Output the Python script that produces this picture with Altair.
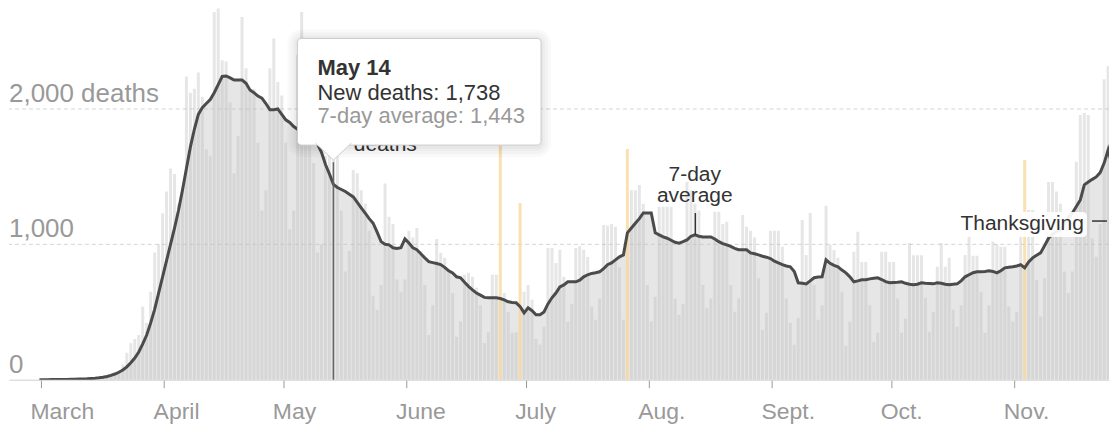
import json
import altair as alt
import pandas as pd

# ---------------- data ----------------
START = "2020-03-01"  # first bar (Sunday)

DAILY_DEATHS = [
    1, 5, 1, 4, 1, 3, 2,
    3, 4, 4, 8, 7, 11, 9,
    12, 18, 23, 31, 44, 51, 64,
    110, 200, 270, 300, 330, 540, 420,
    650, 940, 1000, 1230, 1390, 1560, 1520,
    1300, 1400, 2240, 2120, 2150, 2270, 2090,
    1700, 1650, 2716, 2770, 2360, 2350, 2050,
    1525, 1800, 2680, 2300, 2150, 2150, 1750,
    1250, 1400, 2300, 2520, 2200, 2100, 1750,
    1110, 1250, 2400, 2716, 2250, 1800, 1600,
    940, 1000, 1650, 1800, 1738, 1650, 1250,
    800, 950, 1550, 1525, 1400, 1300, 1100,
    620, 517, 700, 1450, 1203, 1150, 740,
    650, 740, 1100, 1050, 1120, 950, 700,
    330, 550, 1040, 937, 900, 800, 640,
    317, 430, 775, 790, 760, 680, 550,
    272, 350, 775, 775, 2500, 640, 500,
    346, 350, 1306, 650, 700, 590, 300,
    260, 391, 973, 973, 863, 960, 760,
    428, 560, 973, 985, 960, 907, 540,
    442, 600, 1143, 1140, 1150, 1130, 830,
    442, 1705, 1400, 1400, 1438, 1300, 700,
    430, 612, 1277, 1277, 1277, 1277, 600,
    480, 560, 1461, 1400, 1300, 1250, 700,
    531, 600, 1240, 1240, 1150, 1167, 700,
    502, 600, 1217, 1130, 1100, 1050, 750,
    369, 494, 1100, 1100, 1100, 983, 600,
    420, 258, 457, 1180, 922, 1232, 700,
    442, 550, 1285, 996, 959, 900, 650,
    250, 428, 945, 1093, 870, 870, 550,
    280, 346, 945, 945, 870, 870, 600,
    346, 450, 1010, 920, 920, 920, 605,
    354, 500, 834, 1010, 834, 900, 516,
    391, 550, 922, 1084, 915, 915, 650,
    346, 550, 1020, 1000, 983, 983, 540,
    428, 500, 1100, 1623, 1254, 1254, 737,
    467, 750, 1461, 1461, 1390, 1300, 797,
    640, 800, 1610, 1955, 1970, 1955, 1045,
    908, 1150, 2220, 2317, 1180, 1353,
]

SEVEN_DAY_AVG = [
    0, 0, 0, 1, 1, 1, 2, 2, 3, 4,
    5, 6, 7, 9, 11, 14, 18, 24, 32, 42,
    55, 72, 95, 125, 160, 205, 265, 330, 420, 520,
    640, 760, 880, 1000, 1120, 1250, 1400, 1560, 1720, 1850,
    1960, 2010, 2040, 2070, 2120, 2180, 2240, 2244, 2230, 2214,
    2214, 2214, 2190, 2140, 2120, 2095, 2080, 2040, 1995, 1995,
    2000, 1960, 1920, 1900, 1870, 1850, 1845, 1840, 1830, 1800,
    1740, 1680, 1590, 1520, 1443, 1420, 1405, 1390, 1370, 1350,
    1310, 1270, 1230, 1190, 1156, 1090, 1020, 1000, 996, 975,
    970, 975, 1040, 1010, 975, 960, 930, 900, 872, 865,
    858, 850, 830, 805, 789, 760, 753, 720, 690, 664,
    640, 625, 608, 605, 605, 605, 600, 590, 576, 570,
    568, 540, 494, 531, 510, 480, 480, 500, 560, 605,
    640, 686, 700, 723, 723, 723, 735, 760, 775, 785,
    790, 797, 820, 850, 863, 885, 908, 922, 1085, 1120,
    1156, 1190, 1232, 1232, 1232, 1085, 1070, 1055, 1045, 1030,
    1015, 1009, 1020, 1033, 1060, 1070, 1060, 1055, 1055, 1055,
    1040, 1020, 1005, 996, 985, 970, 960, 960, 960, 937,
    930, 922, 912, 905, 895, 875, 863, 850, 840, 834,
    800, 716, 712, 708, 730, 753, 758, 760, 886, 860,
    845, 834, 810, 789, 760, 723, 730, 738, 738, 745,
    750, 753, 740, 725, 716, 718, 720, 723, 712, 705,
    701, 705, 716, 712, 710, 708, 716, 712, 705, 701,
    705, 708, 730, 760, 775, 790, 797, 797, 800, 804,
    800, 789, 805, 826, 830, 834, 840, 849, 826, 870,
    900, 920, 937, 990, 1045, 1075, 1095, 1107, 1150, 1200,
    1232, 1280, 1328, 1439, 1460, 1480, 1498, 1530, 1600, 1697,
    1580, 1498,
]

FLAGGED_DATES = ["2020-06-25", "2020-06-30", "2020-07-27", "2020-11-04", "2020-11-26"]

MONTH_TICKS = ["2020-03-01", "2020-04-01", "2020-05-01", "2020-06-01", "2020-07-01",
               "2020-08-01", "2020-09-01", "2020-10-01", "2020-11-01"]
MONTH_LABELS = ["March", "April", "May", "June", "July", "Aug.", "Sept.", "Oct.", "Nov."]

Y_TICKS = [0, 1000, 2000]
Y_TICK_LABELS = ["0", "1,000", "2,000 deaths"]
Y_MAX = 2743

TOOLTIP_DATE = "2020-05-14"
TOOLTIP_TITLE = "May 14"
TOOLTIP_LINES = ["New deaths: 1,738", "7-day average: 1,443"]

assert len(DAILY_DEATHS) == len(SEVEN_DAY_AVG) == 272

# ---------------- helpers ----------------
DAY = 86400000
BASE = int(pd.Timestamp(START, tz="UTC").value // 1_000_000)


def day_ms(d):
    return int(BASE + d * DAY)


def date_ms(s, extra_days=0.0):
    return int(pd.Timestamp(s, tz="UTC").value // 1_000_000 + extra_days * DAY)


flag_ms = {date_ms(s) for s in FLAGGED_DATES}
df = pd.DataFrame({
    "date": [day_ms(i) for i in range(len(DAILY_DEATHS))],
    "deaths": DAILY_DEATHS,
    "avg": SEVEN_DAY_AVG,
})
df["flag"] = df["date"].isin(flag_ms)

FONT = "Liberation Sans"
W, H = 1102, 372
xscale = alt.Scale(type="utc", domain=[day_ms(-7.66), day_ms(269.22)], padding=0, nice=False)
yscale = alt.Scale(domain=[0, Y_MAX], nice=False, zero=True, padding=0)

label_expr = json.dumps(MONTH_LABELS) + "[utcmonth(datum.value) - 2]"
x_axis = alt.Axis(
    values=[date_ms(s, 0.38) for s in MONTH_TICKS],
    labelExpr=label_expr, title=None, grid=False,
    tickSize=8, tickColor="#9a9a9a", tickWidth=1,
    domainColor="#cfcfcf", domainWidth=1,
    labelColor="#999999", labelFont=FONT, labelFontSize=23,
    labelAlign="left", labelOffset=-11, labelBaseline="alphabetic", labelPadding=31,
    labelOverlap=False, labelFlush=False,
)


def XE(field):
    return alt.X(field, scale=xscale, axis=x_axis)


def YE(field):
    return alt.Y(field, scale=yscale, axis=None)


base = alt.Chart(df)

# gridlines
grid = alt.Chart(pd.DataFrame({"v": Y_TICKS[1:]})).mark_rule(
    color="#d4d4d4", strokeDash=[4, 3], strokeWidth=1
).encode(y=YE("v:Q"))

area = base.mark_area(color="#bdbdbd", opacity=0.38, interpolate="linear", clip=True).encode(
    x=XE("date:T"), y=YE("avg:Q"))

bars = base.transform_filter("!datum.flag").mark_bar(
    width=3, color="#bdbdbd", opacity=0.38, clip=True
).encode(x=XE("date:T"), y=YE("deaths:Q"))

flag_bars = base.transform_filter("datum.flag").mark_bar(
    width=3, color="#f9d493", opacity=0.72, clip=True
).encode(x=XE("date:T"), y=YE("deaths:Q"))

line = base.mark_line(color="#4b4b4b", strokeWidth=3, interpolate="linear", clip=True).encode(
    x=XE("date:T"), y=YE("avg:Q"))

# ---------------- annotations ----------------
tip_ms = date_ms(TOOLTIP_DATE)
may_rule = alt.Chart(pd.DataFrame({"x": [tip_ms], "y": [0], "y2": [1607]})).mark_rule(
    color="#666666", strokeWidth=1.5
).encode(x=XE("x:T"), y=YE("y:Q"), y2="y2:Q")

# the "New deaths" label sits behind the tooltip; only its lower line peeks out
new_deaths_lbl = alt.Chart(pd.DataFrame({
    "x": [day_ms(87.06)], "y": [1688], "t": ["deaths"]})).mark_text(
    font=FONT, fontSize=21, color="#333333", align="center", baseline="alphabetic"
).encode(x=XE("x:T"), y=YE("y:Q"), text="t:N")

avg_df = pd.DataFrame({"x": [day_ms(164.95)] * 2, "y": [1467, 1313], "t": ["7-day", "average"]})
avg_txt = alt.Chart(avg_df).mark_text(
    font=FONT, fontSize=21, color="#333333", align="center", baseline="alphabetic"
).encode(x=XE("x:T"), y=YE("y:Q"), text="t:N")
avg_tick = alt.Chart(pd.DataFrame({"x": [day_ms(165.1)], "y": [1231], "y2": [1069]})).mark_rule(
    color="#333333", strokeWidth=1.5
).encode(x=XE("x:T"), y=YE("y:Q"), y2="y2:Q")

tg_df = pd.DataFrame({"x": [day_ms(262.9)], "y": [1106], "t": ["Thanksgiving"]})
tg_bg = alt.Chart(tg_df).mark_rect(
    fill="white", opacity=0.92, cornerRadius=4,
    xOffset=-127, x2Offset=3, yOffset=-18, y2Offset=7
).encode(x=XE("x:T"), x2="x:T", y=YE("y:Q"), y2="y:Q")
tg_txt = alt.Chart(tg_df).mark_text(
    font=FONT, fontSize=21, color="#333333", align="right", baseline="alphabetic"
).encode(x=XE("x:T"), y=YE("y:Q"), text="t:N")
tg_dash = alt.Chart(pd.DataFrame({"x": [day_ms(264.95)], "x2": [day_ms(268.7)], "y": [1172]})).mark_rule(
    color="#333333", strokeWidth=1.5
).encode(x=XE("x:T"), x2="x2:T", y=YE("y:Q"))

# tooltip box
box_df = pd.DataFrame({"x": [day_ms(64.95)], "x2": [day_ms(126.26)], "y": [2521], "y2": [1733]})
box_enc = dict(x=XE("x:T"), x2="x2:T", y=YE("y:Q"), y2="y2:Q")
shadows = [
    alt.Chart(box_df).mark_rect(fill="black", opacity=0.022, cornerRadius=4 + s,
                                xOffset=-s, x2Offset=s, yOffset=-s + 1, y2Offset=s + 2).encode(**box_enc)
    for s in (2, 4, 7, 10)
]
box = alt.Chart(box_df).mark_rect(fill="white", stroke="#cccccc", strokeWidth=1,
                                  cornerRadius=4).encode(**box_enc)
pointer = alt.Chart(pd.DataFrame({"x": [tip_ms], "y": [1685]})).mark_point(
    shape="M-1,-0.47L0,0.47L1,-0.47", size=1296, filled=True, fill="white",
    stroke="#cccccc", strokeWidth=1, opacity=1
).encode(x=XE("x:T"), y=YE("y:Q"))

tip_x = day_ms(69.97)
tip_title = alt.Chart(pd.DataFrame({"x": [tip_x], "y": [2249], "t": [TOOLTIP_TITLE]})).mark_text(
    font=FONT, fontSize=22, fontWeight="bold", color="#333333", align="left", baseline="alphabetic"
).encode(x=XE("x:T"), y=YE("y:Q"), text="t:N")
tip_body = alt.Chart(pd.DataFrame({"x": [tip_x] * 2, "y": [2065, 1895], "t": TOOLTIP_LINES,
                                   "c": ["#333333", "#999999"]})).mark_text(
    font=FONT, fontSize=22, align="left", baseline="alphabetic"
).encode(x=XE("x:T"), y=YE("y:Q"), text="t:N", color=alt.Color("c:N", scale=None))

# y labels
ylab = alt.Chart(pd.DataFrame({"v": Y_TICKS, "t": Y_TICK_LABELS})).mark_text(
    font=FONT, fontSize=26, color="#999999", align="left", baseline="alphabetic", dy=-7
).encode(x=alt.value(0), y=YE("v:Q"), text="t:N")

chart = alt.layer(
    grid, area, bars, flag_bars, line, may_rule,
    new_deaths_lbl, avg_txt, avg_tick, tg_bg, tg_txt, tg_dash,
    *shadows, box, pointer, tip_title, tip_body, ylab,
).properties(width=W, height=H, padding=0).configure_view(stroke=None)

chart.save("out.html", embed_options={"renderer": "svg", "actions": False})
